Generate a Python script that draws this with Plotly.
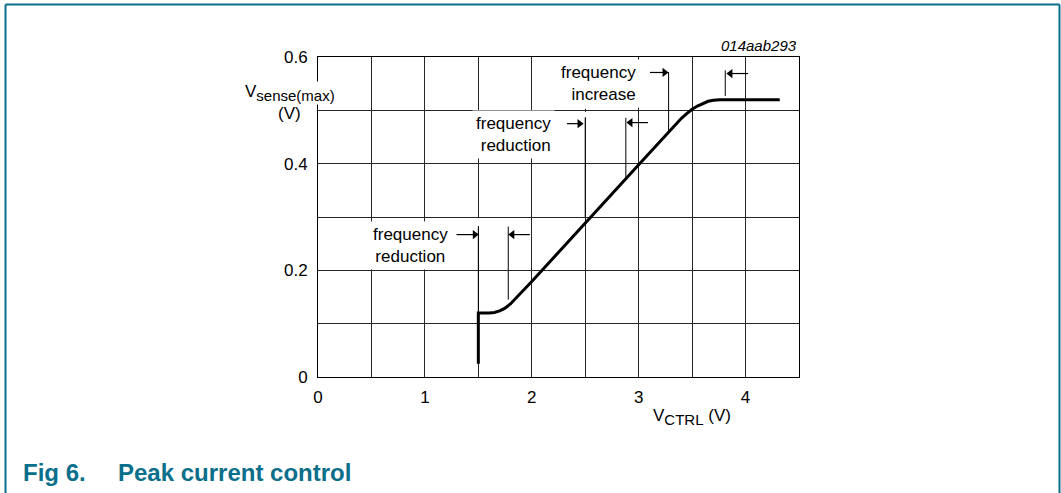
import plotly.graph_objects as go

# ---- data ----
vctrl = [1.5, 1.5, 1.6, 1.65, 1.7, 1.75, 1.8, 1.86, 2.0, 3.0, 3.35, 3.4, 3.45, 3.5, 3.55, 3.6, 3.65, 3.7, 3.76, 4.32]
vsense = [0.025, 0.12, 0.12, 0.121, 0.124, 0.129, 0.137, 0.149, 0.179, 0.398, 0.475, 0.485, 0.494, 0.502, 0.508, 0.513, 0.517, 0.519, 0.52, 0.52]

x_tick_vals = [0, 1, 2, 3, 4]
x_tick_text = ["0", "1", "2", "3", "4"]
y_tick_vals = [0, 0.2, 0.4, 0.6]
y_tick_text = ["0", "0.2", "0.4", "0.6"]

# region-boundary markers (x position, top, bottom)
marker_x = [1.5, 1.78, 2.5, 2.88, 3.28, 3.81]
marker_top = [0.282, 0.282, 0.486, 0.486, 0.572, 0.575]
marker_bottom = [0.12, 0.145, 0.30, 0.374, 0.458, 0.527]

# arrows: tail x, head x, y
arrow_tail = [1.296, 1.982, 2.329, 3.087, 3.106, 4.024]
arrow_head = [1.5, 1.785, 2.48, 2.89, 3.275, 3.825]
arrow_y = [0.267, 0.267, 0.475, 0.477, 0.571, 0.569]

label_text = ["frequency<br>reduction", "frequency<br>reduction", "frequency<br>increase"]
label_x = [0.868, 2.216, 3.015]
label_y = [0.246, 0.455, 0.551]
label_anchor = ["center", "right", "right"]

# grid segments hidden above the marker lines: x, y from, y to
gap_x = [1.5, 2.5, 2.5]
gap_y0 = [0.283, 0.487, 0.503]
gap_y1 = [0.298, 0.497, 0.6]

FONT = "Liberation Sans, Arial, Helvetica, sans-serif"
TEAL = "#0a6f8a"
FS = 17

L, T, W, H = 318, 57, 481, 320
UNIT_PX = W / 4.5

fig = go.Figure()
fig.add_trace(go.Scatter(x=vctrl, y=vsense, mode="lines",
                         line=dict(color="black", width=3),
                         hoverinfo="skip", showlegend=False))

# arrows as line + triangle head
for tx, hx, ay in zip(arrow_tail, arrow_head, arrow_y):
    d = 1 if hx > tx else -1
    tip_center = hx - d * 3.5 / UNIT_PX
    fig.add_trace(go.Scatter(x=[tx, tip_center], y=[ay, ay], mode="lines",
                             line=dict(color="black", width=1.2),
                             hoverinfo="skip", showlegend=False))
    fig.add_trace(go.Scatter(x=[tip_center], y=[ay], mode="markers",
                             marker=dict(symbol="triangle-right" if d > 0 else "triangle-left",
                                         size=8, color="black", line=dict(width=0)),
                             hoverinfo="skip", showlegend=False))

shapes = []
for gx, g0, g1 in zip(gap_x, gap_y0, gap_y1):
    shapes.append(dict(type="rect", xref="x", yref="y", x0=gx - 0.02, x1=gx + 0.02, y0=g0, y1=g1,
                       fillcolor="white", line=dict(width=0), layer="between"))
for mx, mt, mb in zip(marker_x, marker_top, marker_bottom):
    shapes.append(dict(type="line", xref="x", yref="y", x0=mx, x1=mx, y0=mb, y1=mt,
                       line=dict(color="black", width=1)))

def px(p):
    return (p - L) / W
def py(p):
    return (T + H - p) / H

# page frame
shapes.append(dict(type="line", xref="paper", yref="paper", x0=px(5.5), x1=px(5.5), y0=py(493), y1=py(4.5),
                   line=dict(color=TEAL, width=2)))
shapes.append(dict(type="line", xref="paper", yref="paper", x0=px(5.5), x1=px(1059.5), y0=py(4.5), y1=py(4.5),
                   line=dict(color=TEAL, width=2)))
shapes.append(dict(type="line", xref="paper", yref="paper", x0=px(1059.5), x1=px(1059.5), y0=py(4.5), y1=py(493),
                   line=dict(color=TEAL, width=2)))

annotations = []
for t, lx, ly, anc in zip(label_text, label_x, label_y, label_anchor):
    annotations.append(dict(text=t, x=lx, y=ly, xref="x", yref="y", showarrow=False,
                            xanchor=anc, yanchor="middle", align=anc,
                            bgcolor="white", borderpad=3,
                            font=dict(family=FONT, size=FS, color="black")))

annotations += [
    dict(text="V<sub><span style='font-size:15px'>sense(max)</span></sub>", x=px(289.5), y=py(93),
         xref="paper", yref="paper",
         showarrow=False, xanchor="center", yanchor="middle", bgcolor="white", borderpad=0,
         font=dict(family=FONT, size=FS, color="black")),
    dict(text="(V)", x=px(289.5), y=py(113), xref="paper", yref="paper",
         showarrow=False, xanchor="center", yanchor="middle",
         font=dict(family=FONT, size=FS, color="black")),
    dict(text="V<sub><span style='font-size:15px'>CTRL</span></sub> (V)", x=px(691.5), y=py(417),
         xref="paper", yref="paper",
         showarrow=False, xanchor="center", yanchor="middle",
         font=dict(family=FONT, size=FS, color="black")),
    dict(text="<i>014aab293</i>", x=px(799), y=py(46), xref="paper", yref="paper",
         showarrow=False, xanchor="right", yanchor="middle",
         font=dict(family=FONT, size=15, color="black")),
    dict(text="<b>Fig 6.</b>", x=px(21), y=py(472), xref="paper", yref="paper",
         showarrow=False, xanchor="left", yanchor="middle",
         font=dict(family=FONT, size=24, color=TEAL)),
    dict(text="<b>Peak current control</b>", x=px(116), y=py(472), xref="paper", yref="paper",
         showarrow=False, xanchor="left", yanchor="middle",
         font=dict(family=FONT, size=24, color=TEAL)),
]

grid_col = "#262626"
fig.update_layout(
    width=1061, height=493,
    margin=dict(l=L, r=1061 - L - W, t=T, b=493 - T - H),
    paper_bgcolor="white", plot_bgcolor="white",
    showlegend=False,
    shapes=shapes,
    annotations=annotations,
    xaxis=dict(range=[0, 4.5], tickvals=x_tick_vals, ticktext=x_tick_text,
               showgrid=True, gridcolor=grid_col, gridwidth=1,
               minor=dict(dtick=0.5, tick0=0, showgrid=True, gridcolor=grid_col, gridwidth=1),
               showline=True, mirror=True, linecolor="black", linewidth=1,
               zeroline=False, ticks="", ticklabelstandoff=5,
               tickfont=dict(family=FONT, size=FS, color="black"), fixedrange=True),
    yaxis=dict(range=[0, 0.6], tickvals=y_tick_vals, ticktext=y_tick_text,
               showgrid=True, gridcolor=grid_col, gridwidth=1,
               minor=dict(dtick=0.1, tick0=0, showgrid=True, gridcolor=grid_col, gridwidth=1),
               showline=True, mirror=True, linecolor="black", linewidth=1,
               zeroline=False, ticks="", ticklabelstandoff=6,
               tickfont=dict(family=FONT, size=FS, color="black"), fixedrange=True),
)

fig.write_html("out.html", config={"displayModeBar": False},
               post_script="document.body.style.margin='0';document.body.style.overflow='hidden';")
